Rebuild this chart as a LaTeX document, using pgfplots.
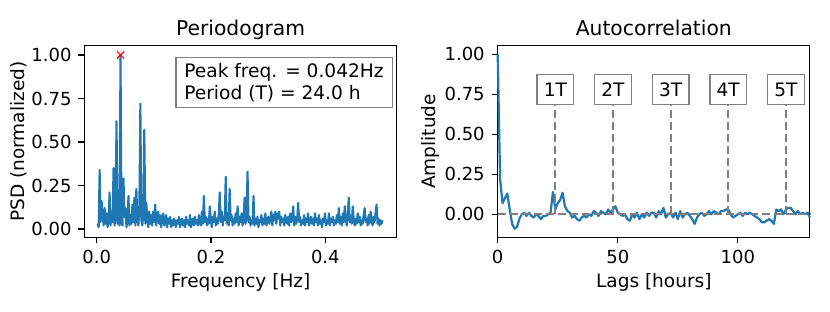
\documentclass[border=0pt]{standalone}
\usepackage{pgfplots}
\pgfplotsset{compat=1.18}
\usepackage{fontspec}
\setmainfont{DejaVu Sans}
\definecolor{tabblue}{RGB}{31,119,180}
\definecolor{boxgray}{RGB}{128,128,128}
\pgfplotstableread{
f psd
.0017 0.03
.0035 0.01
.0052 0.34
.0069 0.04
.0087 0.16
.0104 0.08
.0122 0.02
.0139 0.12
.0156 0.03
.0174 0.09
.0191 0.01
.0208 0.06
.0226 0.21
.0243 0.02
.0260 0.10
.0278 0.04
.0295 0.35
.0313 0.02
.0330 0.09
.0347 0.62
.0365 0.03
.0382 0.11
.0399 0.02
.0417 1.00
.0434 0.04
.0451 0.02
.0469 0.29
.0486 0.07
.0503 0.12
.0521 0.01
.0538 0.05
.0556 0.19
.0573 0.02
.0590 0.08
.0608 0.03
.0625 0.14
.0642 0.04
.0660 0.18
.0677 0.02
.0694 0.23
.0712 0.06
.0729 0.02
.0747 0.11
.0764 0.72
.0781 0.05
.0799 0.02
.0816 0.09
.0833 0.57
.0851 0.03
.0868 0.15
.0885 0.06
.0903 0.01
.0920 0.10
.0938 0.03
.0955 0.08
.0972 0.02
.0990 0.10
.1007 0.04
.1024 0.14
.1042 0.02
.1059 0.07
.1076 0.10
.1094 0.03
.1111 0.08
.1128 0.01
.1146 0.06
.1163 0.09
.1181 0.02
.1198 0.05
.1215 0.08
.1233 0.01
.1250 0.06
.1267 0.03
.1285 0.07
.1302 0.01
.1319 0.05
.1337 0.02
.1354 0.06
.1372 0.04
.1389 0.01
.1406 0.05
.1424 0.03
.1441 0.07
.1458 0.01
.1476 0.04
.1493 0.06
.1510 0.02
.1528 0.05
.1545 0.01
.1563 0.07
.1580 0.03
.1597 0.05
.1615 0.02
.1632 0.08
.1649 0.01
.1667 0.04
.1684 0.06
.1701 0.02
.1719 0.07
.1736 0.03
.1753 0.05
.1771 0.02
.1788 0.08
.1806 0.04
.1823 0.02
.1840 0.10
.1858 0.03
.1875 0.19
.1892 0.04
.1910 0.07
.1927 0.02
.1944 0.06
.1962 0.03
.1979 0.13
.1997 0.05
.2014 0.01
.2031 0.07
.2049 0.04
.2066 0.10
.2083 0.02
.2101 0.06
.2118 0.03
.2135 0.08
.2153 0.21
.2170 0.04
.2188 0.10
.2205 0.02
.2222 0.07
.2240 0.05
.2257 0.30
.2274 0.03
.2292 0.06
.2309 0.02
.2326 0.23
.2344 0.05
.2361 0.08
.2378 0.02
.2396 0.06
.2413 0.03
.2431 0.09
.2448 0.04
.2465 0.13
.2483 0.02
.2500 0.07
.2517 0.04
.2535 0.09
.2552 0.02
.2569 0.06
.2587 0.18
.2604 0.03
.2622 0.08
.2639 0.33
.2656 0.04
.2674 0.07
.2691 0.02
.2708 0.05
.2726 0.03
.2743 0.19
.2760 0.02
.2778 0.06
.2795 0.03
.2813 0.07
.2830 0.01
.2847 0.05
.2865 0.04
.2882 0.08
.2899 0.02
.2917 0.06
.2934 0.03
.2951 0.09
.2969 0.02
.2986 0.05
.3003 0.07
.3021 0.03
.3038 0.06
.3056 0.10
.3073 0.02
.3090 0.08
.3108 0.05
.3125 0.10
.3142 0.03
.3160 0.09
.3177 0.06
.3194 0.10
.3212 0.02
.3229 0.07
.3247 0.04
.3264 0.06
.3281 0.02
.3299 0.08
.3316 0.05
.3333 0.03
.3351 0.07
.3368 0.02
.3385 0.09
.3403 0.04
.3420 0.06
.3438 0.13
.3455 0.02
.3472 0.07
.3490 0.03
.3507 0.05
.3524 0.15
.3542 0.04
.3559 0.07
.3576 0.02
.3594 0.05
.3611 0.03
.3628 0.08
.3646 0.02
.3663 0.06
.3681 0.04
.3698 0.09
.3715 0.02
.3733 0.05
.3750 0.07
.3767 0.03
.3785 0.06
.3802 0.02
.3819 0.09
.3837 0.04
.3854 0.06
.3872 0.02
.3889 0.08
.3906 0.03
.3924 0.05
.3941 0.01
.3958 0.06
.3976 0.04
.3993 0.09
.4010 0.02
.4028 0.05
.4045 0.03
.4063 0.09
.4080 0.02
.4097 0.06
.4115 0.04
.4132 0.07
.4149 0.02
.4167 0.05
.4184 0.03
.4201 0.08
.4219 0.04
.4236 0.12
.4253 0.03
.4271 0.07
.4288 0.02
.4306 0.09
.4323 0.04
.4340 0.13
.4358 0.05
.4375 0.02
.4392 0.08
.4410 0.18
.4427 0.04
.4444 0.07
.4462 0.03
.4479 0.13
.4497 0.05
.4514 0.02
.4531 0.06
.4549 0.03
.4566 0.09
.4583 0.04
.4601 0.07
.4618 0.02
.4635 0.05
.4653 0.03
.4670 0.08
.4688 0.12
.4705 0.04
.4722 0.06
.4740 0.02
.4757 0.08
.4774 0.03
.4792 0.10
.4809 0.05
.4826 0.02
.4844 0.07
.4861 0.04
.4878 0.09
.4896 0.14
.4913 0.03
.4931 0.06
.4948 0.02
.4965 0.05
.4983 0.03
.5000 0.05
}\psdtable
\pgfplotstableread{
lag acf
0 1.00
1 0.22
2 0.07
3 0.10
4 0.13
5 0.03
6 -0.06
7 -0.09
8 -0.08
9 -0.03
10 0.00
11 0.01
12 -0.01
13 0.01
14 -0.01
15 -0.02
16 0.00
17 -0.01
18 -0.03
19 -0.01
20 -0.01
21 0.00
22 0.01
23 0.14
24 0.03
25 0.07
26 0.09
27 0.135
28 0.05
29 0.02
30 0.01
31 -0.02
32 -0.01
33 -0.03
34 -0.04
35 -0.02
36 -0.01
37 -0.02
38 0.00
39 -0.01
40 0.02
41 0.01
42 -0.01
43 0.02
44 0.01
45 0.00
46 0.03
47 0.01
48 0.03
49 0.05
50 0.01
51 0.00
52 -0.01
53 0.00
54 -0.03
55 -0.04
56 0.00
57 -0.02
58 0.01
59 -0.03
60 0.00
61 -0.02
62 0.01
63 -0.01
64 0.01
65 0.01
66 -0.02
67 0.02
68 0.00
69 0.04
70 -0.02
71 0.00
72 0.01
73 -0.02
74 0.01
75 -0.03
76 0.02
77 -0.02
78 0.00
79 0.01
80 -0.01
81 -0.03
82 -0.06
83 -0.02
84 0.00
85 0.01
86 -0.01
87 0.00
88 0.02
89 0.00
90 0.02
91 0.01
92 0.00
93 0.02
94 0.02
95 0.03
96 0.03
97 0.00
98 -0.02
99 -0.01
100 0.00
101 0.01
102 -0.01
103 0.01
104 0.00
105 0.01
106 0.00
107 -0.01
108 -0.02
109 -0.03
110 -0.05
111 -0.05
112 -0.04
113 -0.03
114 -0.04
115 -0.06
116 0.03
117 0.02
118 0.03
119 0.00
120 0.03
121 0.04
122 0.04
123 0.02
124 0.00
125 0.02
126 0.00
127 0.01
128 0.00
129 0.01
130 -0.02
}\acftable
\pgfplotsset{
  myaxis/.style={
    scale only axis, width=312.2pt, height=192pt, anchor=south west,
    axis line style={line width=1.1pt},
    tick style={line width=1.1pt, black},
    major tick length=6pt, tick align=outside, tick pos=left,
    /pgf/number format/assume math mode=true,
    ticklabel style={font=\fontsize{18}{21}\selectfont},
    xticklabel style={anchor=base, yshift=-20.5pt},
    yticklabel style={anchor=east, inner sep=0pt, xshift=-6.8pt},
    every axis title/.style={at={(axis description cs:0.5,1.0495)}, anchor=base, font=\fontsize{20.3}{24}\selectfont},
    every axis x label/.style={at={(axis description cs:0.5,-0.2604)}, anchor=base, font=\fontsize{18.5}{21}\selectfont},
    clip=false,
  }
}
\begin{document}%
\begin{tikzpicture}[font=\fontsize{18.5}{21}\selectfont]
\useasboundingbox (0pt,0pt) rectangle (830pt,312pt);
\begin{axis}[myaxis, at={(84.5pt,74.5pt)},
  xmin=-0.0213, xmax=0.5248, ymin=-0.049, ymax=1.0545,
  xtick={0,0.2,0.4}, ytick={0,0.25,0.5,0.75,1},
  xticklabel style={/pgf/number format/.cd, fixed, fixed zerofill, precision=1},
  yticklabel style={/pgf/number format/.cd, fixed, fixed zerofill, precision=2},
  title={Periodogram}, xlabel={Frequency [Hz]}, ylabel={PSD (normalized)},
  every axis y label/.style={at={(axis description cs:-0.1906,0.5)}, rotate=90, anchor=base, font=\fontsize{18.5}{21}\selectfont},
]
\addplot[tabblue, line width=2.1pt, line join=round] table[x=f, y=psd] {\psdtable};
\addplot[only marks, red, mark=x, mark size=5pt, line width=1.1pt] coordinates {(0.0417,1.00)};
\node[draw=boxgray, line width=1.4pt, fill=white, align=left, anchor=north east, inner xsep=8.5pt, inner ysep=6pt, font=\fontsize{18.6}{21.5}\selectfont] at (rel axis cs:0.988,0.940) {Peak freq. = 0.042Hz\\Period (T) = 24.0 h};
\end{axis}
\begin{axis}[myaxis, at={(497.7pt,74.5pt)},
  xmin=0, xmax=130, ymin=-0.145, ymax=1.055,
  xtick={0,50,100}, ytick={0,0.25,0.5,0.75,1},
  yticklabel style={/pgf/number format/.cd, fixed, fixed zerofill, precision=2},
  title={Autocorrelation}, xlabel={Lags [hours]}, ylabel={Amplitude},
  every axis y label/.style={at={(axis description cs:-0.1984,0.5)}, rotate=90, anchor=base, font=\fontsize{18.5}{21}\selectfont},
]
\addplot[tabblue, line width=2.2pt, line join=round] table[x=lag, y=acf] {\acftable};
\addplot[boxgray, line width=2.2pt, dash pattern=on 8pt off 4pt] coordinates {(0,0) (130,0)};
\addplot[boxgray, line width=2.2pt, dash pattern=on 8pt off 4pt] coordinates {(24,0) (24,0.78)};
\addplot[boxgray, line width=2.2pt, dash pattern=on 8pt off 4pt] coordinates {(48,0) (48,0.78)};
\addplot[boxgray, line width=2.2pt, dash pattern=on 8pt off 4pt] coordinates {(72,0) (72,0.78)};
\addplot[boxgray, line width=2.2pt, dash pattern=on 8pt off 4pt] coordinates {(96,0) (96,0.78)};
\addplot[boxgray, line width=2.2pt, dash pattern=on 8pt off 4pt] coordinates {(120,0) (120,0.78)};
\node[draw=boxgray, line width=1.4pt, fill=white, minimum width=36.7pt, minimum height=30pt, inner sep=0pt] at (axis cs:24,0.78) {1T};
\node[draw=boxgray, line width=1.4pt, fill=white, minimum width=36.7pt, minimum height=30pt, inner sep=0pt] at (axis cs:48,0.78) {2T};
\node[draw=boxgray, line width=1.4pt, fill=white, minimum width=36.7pt, minimum height=30pt, inner sep=0pt] at (axis cs:72,0.78) {3T};
\node[draw=boxgray, line width=1.4pt, fill=white, minimum width=36.7pt, minimum height=30pt, inner sep=0pt] at (axis cs:96,0.78) {4T};
\node[draw=boxgray, line width=1.4pt, fill=white, minimum width=36.7pt, minimum height=30pt, inner sep=0pt] at (axis cs:120,0.78) {5T};
\end{axis}
\end{tikzpicture}%
\end{document}
